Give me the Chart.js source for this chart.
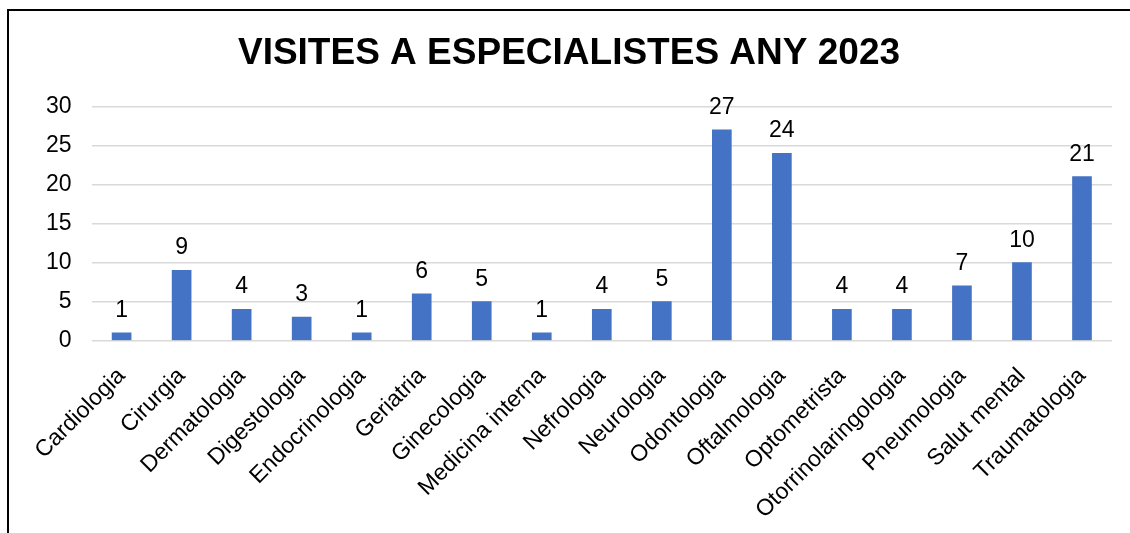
<!DOCTYPE html>
<html>
<head>
<meta charset="utf-8">
<script src="https://cdn.jsdelivr.net/npm/chart.js@4"></script>
<style>
  html, body { margin: 0; padding: 0; background: #fff; overflow: hidden; }
  #marc {
    position: absolute; left: 7px; top: 9px;
    width: 1150px; height: 560px;
    border: 2px solid #000; background: #fff;
  }
  #myChart { display: block; }
</style>
</head>
<body>
<div id="marc"><canvas id="myChart" width="1142" height="535"></canvas></div>
<script>
const especialitats = ["Cardiologia", "Cirurgia", "Dermatologia", "Digestologia", "Endocrinologia",
  "Geriatria", "Ginecologia", "Medicina interna", "Nefrologia", "Neurologia", "Odontologia",
  "Oftalmologia", "Optometrista", "Otorrinolaringologia", "Pneumologia", "Salut mental", "Traumatologia"];
const visites = [1, 9, 4, 3, 1, 6, 5, 1, 4, 5, 27, 24, 4, 4, 7, 10, 21];
const titol = "VISITES A ESPECIALISTES ANY 2023";

const chart = document.querySelector("#myChart");
const font = "'Liberation Sans', Arial, sans-serif";

// etiquetes de valor damunt de cada barra
const etiquetes = {
  id: "etiquetes",
  afterDatasetsDraw(c) {
    const ctx = c.ctx;
    const meta = c.getDatasetMeta(0);
    ctx.save();
    ctx.font = "23px " + font;
    ctx.fillStyle = "#000";
    ctx.textAlign = "center";
    ctx.textBaseline = "alphabetic";
    meta.data.forEach((bar, i) => {
      ctx.fillText(visites[i], bar.x, bar.y - 16);
    });
    ctx.restore();
  },
};

const config = {
  type: "bar",
  data: {
    labels: especialitats,
    datasets: [{
      data: visites,
      backgroundColor: "#4472C4",
      barThickness: 19,
    }],
  },
  options: {
    responsive: false,
    animation: false,
    layout: { padding: { left: 17, right: 39, top: 8, bottom: 0 } },
    plugins: {
      legend: { display: false },
      tooltip: { enabled: false },
      title: {
        display: true,
        text: titol,
        color: "#000",
        font: { family: font, size: 37, weight: "bold" },
        padding: { top: 13, bottom: 30 },
      },
    },
    scales: {
      x: {
        grid: { display: false, drawTicks: false },
        border: { display: false },
        ticks: {
          color: "#000",
          font: { family: font, size: 23 },
          minRotation: 45, maxRotation: 45,
          padding: 22,
          autoSkip: false,
        },
      },
      y: {
        min: 0, max: 30,
        grid: { color: "#d9d9d9", lineWidth: 1.5, drawTicks: false },
        border: { display: false },
        ticks: {
          stepSize: 5,
          color: "#000",
          font: { family: font, size: 23 },
          padding: 20,
        },
      },
    },
  },
  plugins: [etiquetes],
};

const myChart = new Chart(chart, config);
</script>
</body>
</html>
